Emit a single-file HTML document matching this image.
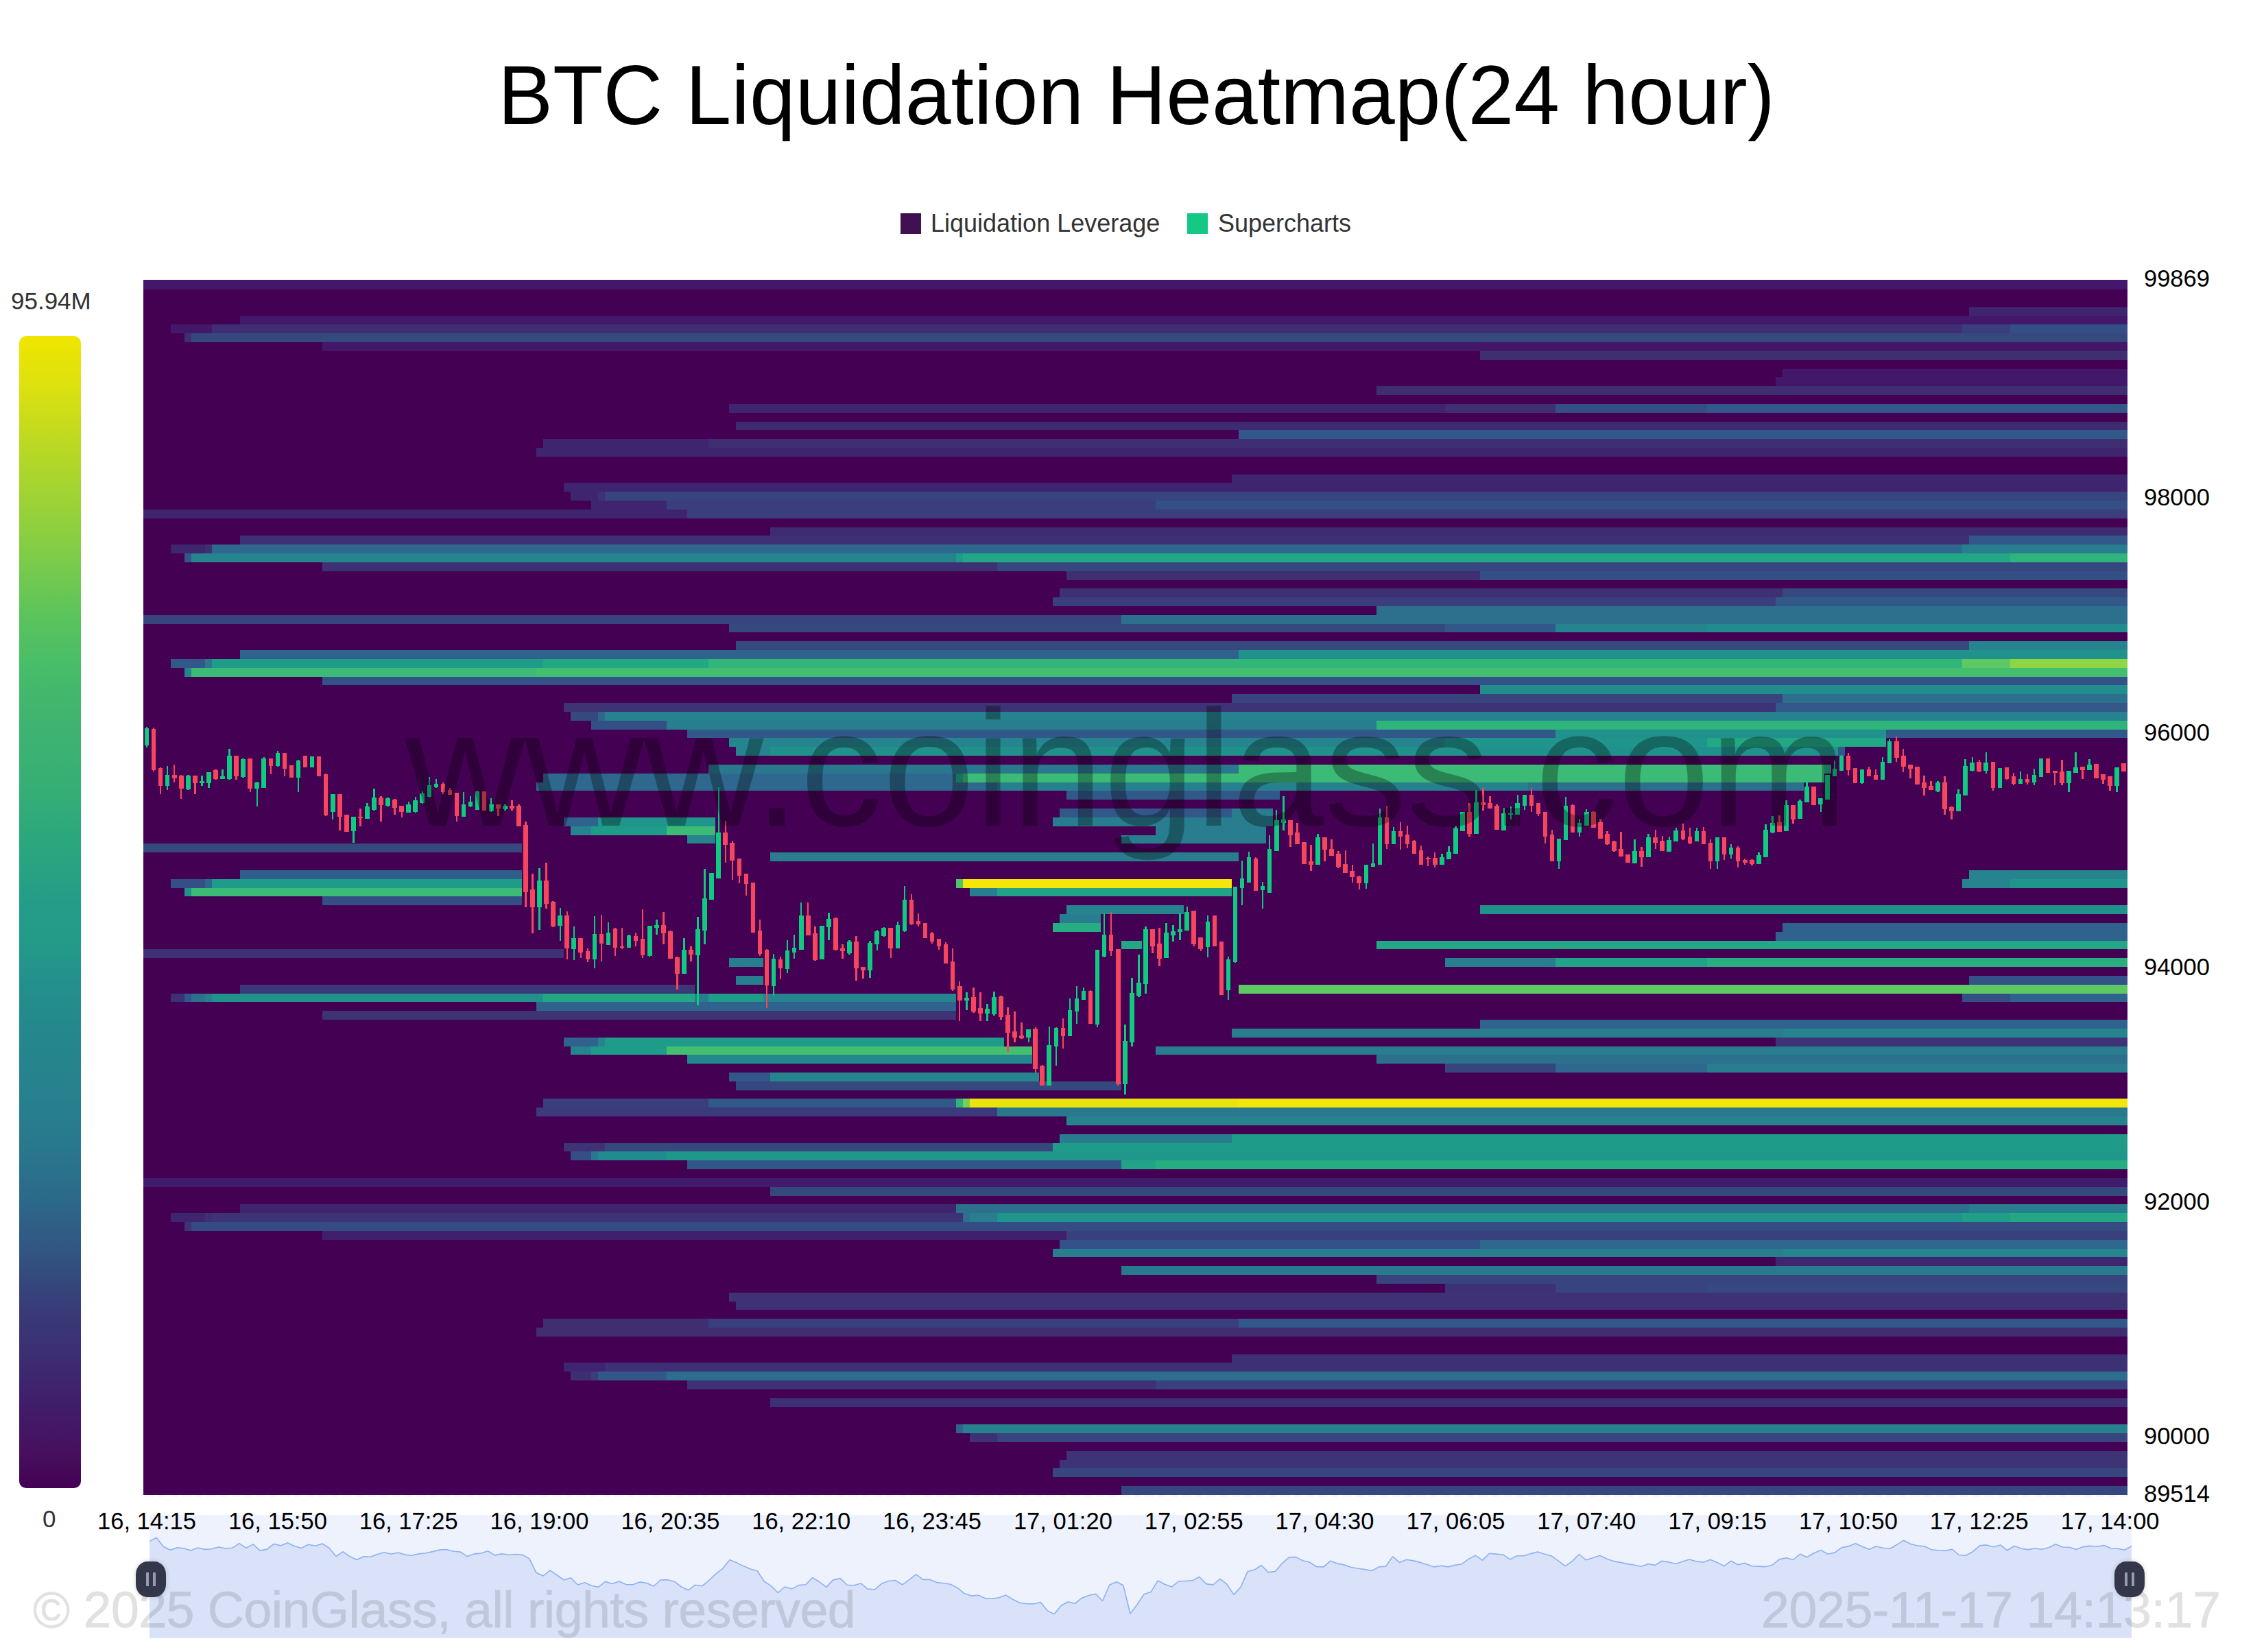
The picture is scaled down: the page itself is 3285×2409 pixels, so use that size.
<!DOCTYPE html>
<html><head><meta charset="utf-8"><title>BTC Liquidation Heatmap</title>
<style>
html,body{margin:0;padding:0;background:#fff;}
body{width:3285px;height:2409px;position:relative;overflow:hidden;font-family:"Liberation Sans",Arial,sans-serif;}
.title{position:absolute;left:726px;top:64px;font-size:123px;color:#000;line-height:150px;white-space:nowrap;transform-origin:0 0;transform:scaleX(0.976);}
.leg{position:absolute;top:296px;height:60px;font-size:36px;color:#333;line-height:60px;white-space:nowrap;}
.sq{position:absolute;width:30px;height:30px;}
.cbar{position:absolute;left:28px;top:490px;width:90px;height:1680px;border-radius:10px;background:linear-gradient(to bottom, #f0e500 0.0%, #dde10f 4.3%, #bcd922 9.2%, #9ed335 14.1%, #7fcc48 19.0%, #5dc45a 23.9%, #47bc69 28.8%, #3fb370 33.7%, #3ab172 37.1%, #31ab78 41.3%, #26a381 46.3%, #229c89 49.6%, #239a89 52.9%, #23908b 56.2%, #24898c 59.5%, #26828e 65.0%, #29798d 70.0%, #2a718c 72.4%, #2c6a8a 74.8%, #2f5e85 77.3%, #325380 80.0%, #35477c 82.2%, #383b78 84.6%, #3b3274 87.1%, #3d2a70 89.5%, #40206b 92.0%, #431866 94.4%, #47105f 96.8%, #440154 100.0%);}
.cl{position:absolute;font-size:35px;color:#333;line-height:40px;white-space:nowrap;}
.xl{position:absolute;top:2196px;width:300px;text-align:center;font-size:34.5px;color:#000;line-height:44px;white-space:nowrap;}
.yl{position:absolute;left:3126px;font-size:34.5px;color:#000;line-height:40px;white-space:nowrap;}
.hm{position:absolute;left:209.0px;top:408.0px;}
.sl{position:absolute;left:218.0px;top:2209.0px;}
.wm{font-family:"Liberation Sans",Arial,sans-serif;}
.copy{position:absolute;top:2302px;font-size:71px;color:rgba(0,0,0,0.11);line-height:90px;white-space:nowrap;}
.handle{position:absolute;width:44px;height:52px;border-radius:17px/19px;background:#343749;box-shadow:0 0 7px rgba(0,0,0,0.18);filter:blur(0.6px);}
.grip{position:absolute;top:16px;width:4.4px;height:19.5px;background:#979bb0;}
</style></head><body>
<div class="title">BTC Liquidation Heatmap(24 hour)</div>
<div class="sq" style="left:1313px;top:311px;background:#3f1052;"></div>
<div class="leg" style="left:1357px;">Liquidation Leverage</div>
<div class="sq" style="left:1731px;top:311px;background:#14c986;"></div>
<div class="leg" style="left:1776px;">Supercharts</div>
<div class="cl" style="left:16px;top:419px;">95.94M</div>
<div class="cbar"></div>
<div class="sl"><svg width="2890.0" height="179.5" viewBox="0 0 2890.0 179.5">
<rect x="0" y="0" width="2890.0" height="179.5" fill="#eef2fd"/>
<path d="M0.0,38.6 L10.1,33.3 L20.1,46.3 L30.2,51.3 L40.3,47.8 L50.3,48.9 L60.4,52.1 L70.5,48.0 L80.6,50.4 L90.6,49.7 L100.7,47.0 L110.8,49.0 L120.8,48.3 L130.9,41.7 L141.0,48.3 L151.0,42.9 L161.1,52.1 L171.2,50.1 L181.3,42.5 L191.3,44.9 L201.4,40.8 L211.5,45.8 L221.5,48.5 L231.6,43.2 L241.7,45.4 L251.7,42.0 L261.8,48.3 L271.9,60.5 L282.0,53.8 L292.0,60.8 L302.1,65.5 L312.2,60.7 L322.2,61.3 L332.3,57.6 L342.4,54.8 L352.4,57.2 L362.5,55.0 L372.6,58.1 L382.6,59.2 L392.7,56.9 L402.8,55.7 L412.9,53.6 L422.9,51.1 L433.0,50.5 L443.1,53.2 L453.1,54.0 L463.2,60.6 L473.3,56.9 L483.3,56.1 L493.4,52.8 L503.5,58.9 L513.6,56.9 L523.6,58.3 L533.7,57.5 L543.8,58.3 L553.8,63.9 L563.9,84.3 L574.0,89.0 L584.0,80.8 L594.1,88.0 L604.2,95.0 L614.3,91.7 L624.3,102.0 L634.4,98.7 L644.5,103.2 L654.5,105.3 L664.6,97.3 L674.7,100.4 L684.7,96.9 L694.8,101.6 L704.9,101.8 L714.9,97.9 L725.0,99.5 L735.1,104.0 L745.2,94.9 L755.2,94.7 L765.3,97.2 L775.4,105.0 L785.4,109.8 L795.5,102.3 L805.6,103.8 L815.6,95.9 L825.7,86.2 L835.8,78.3 L845.9,65.7 L855.9,69.6 L866.0,74.6 L876.1,79.1 L886.1,81.8 L896.2,97.0 L906.3,103.6 L916.3,113.5 L926.4,105.0 L936.5,108.1 L946.6,102.6 L956.6,101.7 L966.7,91.6 L976.8,97.8 L986.8,105.4 L996.9,94.9 L1007.0,92.6 L1017.0,102.3 L1027.1,102.8 L1037.2,99.9 L1047.2,108.1 L1057.3,108.8 L1067.4,100.3 L1077.5,96.5 L1087.5,95.5 L1097.6,101.8 L1107.7,94.6 L1117.7,86.8 L1127.8,94.4 L1137.9,94.4 L1147.9,98.6 L1158.0,99.8 L1168.1,101.3 L1178.2,106.6 L1188.2,114.8 L1198.3,118.1 L1208.4,117.2 L1218.4,121.6 L1228.5,122.3 L1238.6,120.8 L1248.6,117.0 L1258.7,123.3 L1268.8,128.2 L1278.9,129.7 L1288.9,129.9 L1299.0,127.2 L1309.1,139.6 L1319.1,144.8 L1329.2,132.2 L1339.3,126.8 L1349.3,129.3 L1359.4,121.2 L1369.5,117.5 L1379.5,115.2 L1389.6,125.5 L1399.7,102.3 L1409.8,97.7 L1419.8,102.7 L1429.9,144.2 L1440.0,130.7 L1450.0,115.8 L1460.1,112.5 L1470.2,95.9 L1480.2,101.2 L1490.3,105.1 L1500.4,97.0 L1510.5,96.5 L1520.5,95.9 L1530.6,90.5 L1540.7,100.6 L1550.7,102.1 L1560.8,93.5 L1570.9,101.2 L1580.9,116.4 L1591.0,105.4 L1601.1,82.7 L1611.1,80.1 L1621.2,73.5 L1631.3,83.9 L1641.4,82.4 L1651.4,70.8 L1661.5,61.9 L1671.6,61.6 L1681.6,66.7 L1691.7,69.3 L1701.8,75.6 L1711.8,75.9 L1721.9,67.2 L1732.0,71.1 L1742.1,72.9 L1752.1,76.5 L1762.2,78.3 L1772.3,79.6 L1782.3,81.5 L1792.4,75.9 L1802.5,75.3 L1812.5,60.9 L1822.6,69.4 L1832.7,65.2 L1842.8,66.9 L1852.8,69.4 L1862.9,72.4 L1873.0,75.9 L1883.0,74.2 L1893.1,75.9 L1903.2,73.4 L1913.2,71.8 L1923.3,64.4 L1933.4,59.2 L1943.4,66.1 L1953.5,56.3 L1963.6,57.1 L1973.7,58.2 L1983.7,64.9 L1993.8,59.7 L2003.9,59.7 L2013.9,56.6 L2024.0,54.1 L2034.1,57.3 L2044.1,59.9 L2054.2,67.1 L2064.3,74.7 L2074.4,67.6 L2084.4,57.5 L2094.5,65.8 L2104.6,62.8 L2114.6,59.3 L2124.7,64.2 L2134.8,67.6 L2144.8,69.4 L2154.9,71.6 L2165.0,73.3 L2175.1,75.3 L2185.1,71.5 L2195.2,73.4 L2205.3,67.2 L2215.3,68.9 L2225.4,71.5 L2235.5,68.0 L2245.5,65.1 L2255.6,67.9 L2265.7,69.2 L2275.7,65.3 L2285.8,69.4 L2295.9,74.7 L2306.0,67.2 L2316.0,72.7 L2326.1,70.4 L2336.2,74.7 L2346.2,75.1 L2356.3,75.6 L2366.4,72.9 L2376.4,64.9 L2386.5,62.7 L2396.6,65.5 L2406.7,57.2 L2416.7,61.7 L2426.8,55.8 L2436.9,51.4 L2446.9,57.2 L2457.0,55.1 L2467.1,47.8 L2477.1,45.9 L2487.2,41.8 L2497.3,46.2 L2507.4,50.3 L2517.4,46.0 L2527.5,48.3 L2537.6,49.3 L2547.6,43.7 L2557.7,37.2 L2567.8,42.5 L2577.8,45.1 L2587.9,45.8 L2598.0,50.8 L2608.0,51.8 L2618.1,52.4 L2628.2,50.2 L2638.3,58.5 L2648.3,59.2 L2658.4,53.7 L2668.5,44.9 L2678.5,43.9 L2688.6,46.8 L2698.7,43.9 L2708.7,51.8 L2718.8,45.5 L2728.9,49.1 L2739.0,50.6 L2749.0,49.0 L2759.1,50.2 L2769.2,47.8 L2779.2,42.7 L2789.3,47.0 L2799.4,47.2 L2809.4,50.4 L2819.5,46.6 L2829.6,45.4 L2839.7,46.2 L2849.7,44.6 L2859.8,48.8 L2869.9,49.3 L2879.9,51.3 L2890.0,45.5 L2890.0,179.5 L0,179.5 Z" fill="#d9e2f9"/>
<path d="M0.0,38.6 L10.1,33.3 L20.1,46.3 L30.2,51.3 L40.3,47.8 L50.3,48.9 L60.4,52.1 L70.5,48.0 L80.6,50.4 L90.6,49.7 L100.7,47.0 L110.8,49.0 L120.8,48.3 L130.9,41.7 L141.0,48.3 L151.0,42.9 L161.1,52.1 L171.2,50.1 L181.3,42.5 L191.3,44.9 L201.4,40.8 L211.5,45.8 L221.5,48.5 L231.6,43.2 L241.7,45.4 L251.7,42.0 L261.8,48.3 L271.9,60.5 L282.0,53.8 L292.0,60.8 L302.1,65.5 L312.2,60.7 L322.2,61.3 L332.3,57.6 L342.4,54.8 L352.4,57.2 L362.5,55.0 L372.6,58.1 L382.6,59.2 L392.7,56.9 L402.8,55.7 L412.9,53.6 L422.9,51.1 L433.0,50.5 L443.1,53.2 L453.1,54.0 L463.2,60.6 L473.3,56.9 L483.3,56.1 L493.4,52.8 L503.5,58.9 L513.6,56.9 L523.6,58.3 L533.7,57.5 L543.8,58.3 L553.8,63.9 L563.9,84.3 L574.0,89.0 L584.0,80.8 L594.1,88.0 L604.2,95.0 L614.3,91.7 L624.3,102.0 L634.4,98.7 L644.5,103.2 L654.5,105.3 L664.6,97.3 L674.7,100.4 L684.7,96.9 L694.8,101.6 L704.9,101.8 L714.9,97.9 L725.0,99.5 L735.1,104.0 L745.2,94.9 L755.2,94.7 L765.3,97.2 L775.4,105.0 L785.4,109.8 L795.5,102.3 L805.6,103.8 L815.6,95.9 L825.7,86.2 L835.8,78.3 L845.9,65.7 L855.9,69.6 L866.0,74.6 L876.1,79.1 L886.1,81.8 L896.2,97.0 L906.3,103.6 L916.3,113.5 L926.4,105.0 L936.5,108.1 L946.6,102.6 L956.6,101.7 L966.7,91.6 L976.8,97.8 L986.8,105.4 L996.9,94.9 L1007.0,92.6 L1017.0,102.3 L1027.1,102.8 L1037.2,99.9 L1047.2,108.1 L1057.3,108.8 L1067.4,100.3 L1077.5,96.5 L1087.5,95.5 L1097.6,101.8 L1107.7,94.6 L1117.7,86.8 L1127.8,94.4 L1137.9,94.4 L1147.9,98.6 L1158.0,99.8 L1168.1,101.3 L1178.2,106.6 L1188.2,114.8 L1198.3,118.1 L1208.4,117.2 L1218.4,121.6 L1228.5,122.3 L1238.6,120.8 L1248.6,117.0 L1258.7,123.3 L1268.8,128.2 L1278.9,129.7 L1288.9,129.9 L1299.0,127.2 L1309.1,139.6 L1319.1,144.8 L1329.2,132.2 L1339.3,126.8 L1349.3,129.3 L1359.4,121.2 L1369.5,117.5 L1379.5,115.2 L1389.6,125.5 L1399.7,102.3 L1409.8,97.7 L1419.8,102.7 L1429.9,144.2 L1440.0,130.7 L1450.0,115.8 L1460.1,112.5 L1470.2,95.9 L1480.2,101.2 L1490.3,105.1 L1500.4,97.0 L1510.5,96.5 L1520.5,95.9 L1530.6,90.5 L1540.7,100.6 L1550.7,102.1 L1560.8,93.5 L1570.9,101.2 L1580.9,116.4 L1591.0,105.4 L1601.1,82.7 L1611.1,80.1 L1621.2,73.5 L1631.3,83.9 L1641.4,82.4 L1651.4,70.8 L1661.5,61.9 L1671.6,61.6 L1681.6,66.7 L1691.7,69.3 L1701.8,75.6 L1711.8,75.9 L1721.9,67.2 L1732.0,71.1 L1742.1,72.9 L1752.1,76.5 L1762.2,78.3 L1772.3,79.6 L1782.3,81.5 L1792.4,75.9 L1802.5,75.3 L1812.5,60.9 L1822.6,69.4 L1832.7,65.2 L1842.8,66.9 L1852.8,69.4 L1862.9,72.4 L1873.0,75.9 L1883.0,74.2 L1893.1,75.9 L1903.2,73.4 L1913.2,71.8 L1923.3,64.4 L1933.4,59.2 L1943.4,66.1 L1953.5,56.3 L1963.6,57.1 L1973.7,58.2 L1983.7,64.9 L1993.8,59.7 L2003.9,59.7 L2013.9,56.6 L2024.0,54.1 L2034.1,57.3 L2044.1,59.9 L2054.2,67.1 L2064.3,74.7 L2074.4,67.6 L2084.4,57.5 L2094.5,65.8 L2104.6,62.8 L2114.6,59.3 L2124.7,64.2 L2134.8,67.6 L2144.8,69.4 L2154.9,71.6 L2165.0,73.3 L2175.1,75.3 L2185.1,71.5 L2195.2,73.4 L2205.3,67.2 L2215.3,68.9 L2225.4,71.5 L2235.5,68.0 L2245.5,65.1 L2255.6,67.9 L2265.7,69.2 L2275.7,65.3 L2285.8,69.4 L2295.9,74.7 L2306.0,67.2 L2316.0,72.7 L2326.1,70.4 L2336.2,74.7 L2346.2,75.1 L2356.3,75.6 L2366.4,72.9 L2376.4,64.9 L2386.5,62.7 L2396.6,65.5 L2406.7,57.2 L2416.7,61.7 L2426.8,55.8 L2436.9,51.4 L2446.9,57.2 L2457.0,55.1 L2467.1,47.8 L2477.1,45.9 L2487.2,41.8 L2497.3,46.2 L2507.4,50.3 L2517.4,46.0 L2527.5,48.3 L2537.6,49.3 L2547.6,43.7 L2557.7,37.2 L2567.8,42.5 L2577.8,45.1 L2587.9,45.8 L2598.0,50.8 L2608.0,51.8 L2618.1,52.4 L2628.2,50.2 L2638.3,58.5 L2648.3,59.2 L2658.4,53.7 L2668.5,44.9 L2678.5,43.9 L2688.6,46.8 L2698.7,43.9 L2708.7,51.8 L2718.8,45.5 L2728.9,49.1 L2739.0,50.6 L2749.0,49.0 L2759.1,50.2 L2769.2,47.8 L2779.2,42.7 L2789.3,47.0 L2799.4,47.2 L2809.4,50.4 L2819.5,46.6 L2829.6,45.4 L2839.7,46.2 L2849.7,44.6 L2859.8,48.8 L2869.9,49.3 L2879.9,51.3 L2890.0,45.5" fill="none" stroke="#8db1f5" stroke-width="1.6" stroke-linejoin="round"/>
</svg></div>
<svg style="position:absolute;left:209px;top:2180px;" width="2893" height="3"><line x1="3" y1="1.5" x2="2893" y2="1.5" stroke="#e3e3e3" stroke-width="1.2" stroke-dasharray="12 6"/></svg>
<div class="cl" style="left:62px;top:2195px;">0</div>
<div class="xl" style="left:64.0px">16, 14:15</div><div class="xl" style="left:254.9px">16, 15:50</div><div class="xl" style="left:445.7px">16, 17:25</div><div class="xl" style="left:636.5px">16, 19:00</div><div class="xl" style="left:827.4px">16, 20:35</div><div class="xl" style="left:1018.2px">16, 22:10</div><div class="xl" style="left:1209.0px">16, 23:45</div><div class="xl" style="left:1399.9px">17, 01:20</div><div class="xl" style="left:1590.7px">17, 02:55</div><div class="xl" style="left:1781.5px">17, 04:30</div><div class="xl" style="left:1972.4px">17, 06:05</div><div class="xl" style="left:2163.2px">17, 07:40</div><div class="xl" style="left:2354.1px">17, 09:15</div><div class="xl" style="left:2544.9px">17, 10:50</div><div class="xl" style="left:2735.7px">17, 12:25</div><div class="xl" style="left:2926.6px">17, 14:00</div>
<div class="yl" style="top:385.5px">99869</div><div class="yl" style="top:705.3px">98000</div><div class="yl" style="top:1047.6px">96000</div><div class="yl" style="top:1389.8px">94000</div><div class="yl" style="top:1732.1px">92000</div><div class="yl" style="top:2074.3px">90000</div><div class="yl" style="top:2157.5px">89514</div>
<div class="hm"><svg width="2893.0" height="1772.0" viewBox="0 0 2893.0 1772.0" shape-rendering="crispEdges">
<rect x="0" y="0" width="2893.0" height="1772.0" fill="#440154"/><rect x="0" y="0" width="2893" height="14" fill="#43176a"/><rect x="2662" y="40" width="231" height="13" fill="#3f2570"/><rect x="141" y="53" width="2752" height="12" fill="#43176a"/><rect x="40" y="65" width="60" height="13" fill="#43176a"/><rect x="100" y="65" width="2552" height="13" fill="#3f2e72"/><rect x="2652" y="65" width="70" height="13" fill="#3a3e7d"/><rect x="2722" y="65" width="171" height="13" fill="#344f86"/><rect x="60" y="78" width="10" height="13" fill="#3f2e72"/><rect x="70" y="78" width="2823" height="13" fill="#35497f"/><rect x="261" y="91" width="2632" height="13" fill="#43176a"/><rect x="1949" y="104" width="944" height="13" fill="#3f2e72"/><rect x="2390" y="130" width="503" height="12" fill="#43176a"/><rect x="2380" y="142" width="513" height="13" fill="#43176a"/><rect x="1798" y="155" width="1095" height="13" fill="#3f2e72"/><rect x="854" y="181" width="1044" height="13" fill="#3f2570"/><rect x="1898" y="181" width="161" height="13" fill="#3f2e72"/><rect x="2059" y="181" width="221" height="13" fill="#344f86"/><rect x="2280" y="181" width="613" height="13" fill="#32588a"/><rect x="864" y="207" width="2029" height="12" fill="#3f2b71"/><rect x="1597" y="219" width="1296" height="13" fill="#32588a"/><rect x="583" y="232" width="241" height="13" fill="#3f2570"/><rect x="824" y="232" width="2069" height="13" fill="#3f2e72"/><rect x="573" y="245" width="2320" height="13" fill="#3f2570"/><rect x="1587" y="284" width="1306" height="12" fill="#3f2570"/><rect x="613" y="296" width="2280" height="13" fill="#3f2570"/><rect x="623" y="309" width="40" height="13" fill="#3f2570"/><rect x="663" y="309" width="10" height="13" fill="#3e3074"/><rect x="673" y="309" width="2220" height="13" fill="#37447e"/><rect x="653" y="322" width="110" height="13" fill="#3f2570"/><rect x="763" y="322" width="713" height="13" fill="#3a3e7d"/><rect x="1476" y="322" width="1417" height="13" fill="#344f86"/><rect x="0" y="335" width="793" height="13" fill="#3f2570"/><rect x="793" y="335" width="2100" height="13" fill="#3a3e7d"/><rect x="914" y="361" width="1979" height="12" fill="#3f2b71"/><rect x="141" y="373" width="2521" height="13" fill="#3e3074"/><rect x="2662" y="373" width="231" height="13" fill="#32588a"/><rect x="40" y="386" width="50" height="13" fill="#3f2570"/><rect x="90" y="386" width="10" height="13" fill="#3e3074"/><rect x="100" y="386" width="2552" height="13" fill="#2e688e"/><rect x="2652" y="386" width="241" height="13" fill="#287d8e"/><rect x="60" y="399" width="10" height="13" fill="#32588a"/><rect x="70" y="399" width="1115" height="13" fill="#25848e"/><rect x="1185" y="399" width="10" height="13" fill="#1e9c89"/><rect x="1195" y="399" width="1527" height="13" fill="#22a884"/><rect x="2722" y="399" width="171" height="13" fill="#2fb47c"/><rect x="261" y="412" width="984" height="13" fill="#3e3074"/><rect x="1245" y="412" width="1648" height="13" fill="#36467e"/><rect x="1346" y="425" width="603" height="13" fill="#3f2e72"/><rect x="1949" y="425" width="944" height="13" fill="#344f86"/><rect x="1336" y="450" width="1054" height="13" fill="#3e3074"/><rect x="2390" y="450" width="503" height="13" fill="#35497f"/><rect x="1326" y="463" width="1054" height="13" fill="#3a3e7d"/><rect x="2380" y="463" width="513" height="13" fill="#32588a"/><rect x="1798" y="476" width="1095" height="13" fill="#2c708e"/><rect x="0" y="489" width="1426" height="13" fill="#37447e"/><rect x="1426" y="489" width="1467" height="13" fill="#2c708e"/><rect x="854" y="502" width="1044" height="12" fill="#35497f"/><rect x="1898" y="502" width="161" height="12" fill="#32588a"/><rect x="2059" y="502" width="221" height="12" fill="#25848e"/><rect x="2280" y="502" width="613" height="12" fill="#228b8d"/><rect x="864" y="527" width="1798" height="13" fill="#35497f"/><rect x="2662" y="527" width="231" height="13" fill="#25848e"/><rect x="141" y="540" width="1456" height="13" fill="#2f628d"/><rect x="1597" y="540" width="1296" height="13" fill="#21918c"/><rect x="40" y="553" width="50" height="13" fill="#32588a"/><rect x="90" y="553" width="10" height="13" fill="#2a788e"/><rect x="100" y="553" width="483" height="13" fill="#1e9c89"/><rect x="583" y="553" width="241" height="13" fill="#22a884"/><rect x="824" y="553" width="1828" height="13" fill="#32b67a"/><rect x="2652" y="553" width="70" height="13" fill="#5ec962"/><rect x="2722" y="553" width="171" height="13" fill="#8ed645"/><rect x="60" y="566" width="10" height="13" fill="#25848e"/><rect x="70" y="566" width="503" height="13" fill="#3bbb75"/><rect x="573" y="566" width="2320" height="13" fill="#44bf70"/><rect x="261" y="579" width="2632" height="12" fill="#33528a"/><rect x="1949" y="591" width="944" height="13" fill="#218e8d"/><rect x="1587" y="604" width="803" height="13" fill="#37447e"/><rect x="2390" y="604" width="503" height="13" fill="#2c708e"/><rect x="613" y="617" width="1767" height="13" fill="#3d3375"/><rect x="2380" y="617" width="513" height="13" fill="#32588a"/><rect x="623" y="630" width="40" height="13" fill="#35497f"/><rect x="663" y="630" width="10" height="13" fill="#2e688e"/><rect x="673" y="630" width="2220" height="13" fill="#26828e"/><rect x="653" y="643" width="110" height="13" fill="#344f86"/><rect x="763" y="643" width="1035" height="13" fill="#287d8e"/><rect x="1798" y="643" width="1095" height="13" fill="#2fb47c"/><rect x="793" y="656" width="1266" height="12" fill="#32588a"/><rect x="2059" y="656" width="482" height="12" fill="#21918c"/><rect x="2541" y="656" width="352" height="12" fill="#32588a"/><rect x="854" y="668" width="1044" height="13" fill="#25848e"/><rect x="1898" y="668" width="382" height="13" fill="#1f958b"/><rect x="2280" y="668" width="261" height="13" fill="#22a884"/><rect x="864" y="681" width="50" height="13" fill="#25848e"/><rect x="914" y="681" width="1557" height="13" fill="#21918c"/><rect x="2471" y="681" width="10" height="13" fill="#32588a"/><rect x="824" y="707" width="773" height="13" fill="#2a788e"/><rect x="1597" y="707" width="854" height="13" fill="#3bbb75"/><rect x="2451" y="707" width="10" height="13" fill="#22a884"/><rect x="583" y="720" width="602" height="13" fill="#2e688e"/><rect x="1185" y="720" width="10" height="13" fill="#20a386"/><rect x="1195" y="720" width="1256" height="13" fill="#3bbb75"/><rect x="573" y="733" width="672" height="12" fill="#2e688e"/><rect x="1245" y="733" width="774" height="12" fill="#27808e"/><rect x="2019" y="733" width="402" height="12" fill="#2c708e"/><rect x="1346" y="745" width="311" height="13" fill="#32588a"/><rect x="1336" y="771" width="251" height="13" fill="#32588a"/><rect x="1587" y="771" width="60" height="13" fill="#287d8e"/><rect x="613" y="784" width="50" height="13" fill="#2f628d"/><rect x="663" y="784" width="171" height="13" fill="#1f958b"/><rect x="1326" y="784" width="321" height="13" fill="#287d8e"/><rect x="623" y="797" width="30" height="13" fill="#25848e"/><rect x="653" y="797" width="110" height="13" fill="#1e9c89"/><rect x="763" y="797" width="71" height="13" fill="#3bbb75"/><rect x="1476" y="797" width="161" height="13" fill="#287d8e"/><rect x="793" y="810" width="41" height="12" fill="#25848e"/><rect x="1426" y="810" width="211" height="12" fill="#287d8e"/><rect x="0" y="822" width="552" height="13" fill="#35497f"/><rect x="914" y="835" width="683" height="13" fill="#287d8e"/><rect x="141" y="861" width="411" height="13" fill="#305f8c"/><rect x="2662" y="861" width="231" height="13" fill="#25848e"/><rect x="40" y="874" width="50" height="13" fill="#344f86"/><rect x="90" y="874" width="10" height="13" fill="#2e688e"/><rect x="100" y="874" width="452" height="13" fill="#1e9c89"/><rect x="1185" y="874" width="10" height="13" fill="#4ec36b"/><rect x="1195" y="874" width="392" height="13" fill="#f3e608"/><rect x="2652" y="874" width="70" height="13" fill="#25848e"/><rect x="2722" y="874" width="171" height="13" fill="#1f958b"/><rect x="60" y="887" width="10" height="12" fill="#21918c"/><rect x="70" y="887" width="482" height="12" fill="#3bbb75"/><rect x="1205" y="887" width="40" height="12" fill="#287d8e"/><rect x="1245" y="887" width="342" height="12" fill="#20a386"/><rect x="261" y="899" width="291" height="13" fill="#344f86"/><rect x="1346" y="912" width="171" height="13" fill="#25848e"/><rect x="1949" y="912" width="944" height="13" fill="#21918c"/><rect x="1336" y="925" width="60" height="13" fill="#287d8e"/><rect x="1326" y="938" width="70" height="13" fill="#26ad81"/><rect x="2390" y="938" width="503" height="13" fill="#2f628d"/><rect x="2380" y="951" width="513" height="13" fill="#2f628d"/><rect x="1426" y="964" width="30" height="12" fill="#22a884"/><rect x="1798" y="964" width="1095" height="12" fill="#22a884"/><rect x="0" y="976" width="613" height="13" fill="#3e3074"/><rect x="854" y="989" width="50" height="13" fill="#287d8e"/><rect x="1898" y="989" width="161" height="13" fill="#287d8e"/><rect x="2059" y="989" width="221" height="13" fill="#20a386"/><rect x="2280" y="989" width="613" height="13" fill="#29af7f"/><rect x="864" y="1015" width="40" height="13" fill="#287d8e"/><rect x="2662" y="1015" width="231" height="13" fill="#33528a"/><rect x="141" y="1028" width="663" height="13" fill="#3c3778"/><rect x="1597" y="1028" width="1296" height="13" fill="#5ec962"/><rect x="40" y="1041" width="20" height="12" fill="#3e3074"/><rect x="60" y="1041" width="10" height="12" fill="#32588a"/><rect x="70" y="1041" width="20" height="12" fill="#2c708e"/><rect x="90" y="1041" width="10" height="12" fill="#287d8e"/><rect x="100" y="1041" width="483" height="12" fill="#21918c"/><rect x="583" y="1041" width="221" height="12" fill="#22a884"/><rect x="804" y="1041" width="20" height="12" fill="#287d8e"/><rect x="824" y="1041" width="80" height="12" fill="#1e9c89"/><rect x="904" y="1041" width="281" height="12" fill="#25848e"/><rect x="2652" y="1041" width="70" height="12" fill="#344f86"/><rect x="2722" y="1041" width="171" height="12" fill="#2f628d"/><rect x="573" y="1053" width="612" height="13" fill="#2f628d"/><rect x="261" y="1066" width="924" height="13" fill="#3d3375"/><rect x="1949" y="1079" width="944" height="13" fill="#2f628d"/><rect x="1587" y="1092" width="803" height="13" fill="#287d8e"/><rect x="2390" y="1092" width="503" height="13" fill="#25848e"/><rect x="613" y="1105" width="50" height="13" fill="#2f628d"/><rect x="663" y="1105" width="10" height="13" fill="#25848e"/><rect x="673" y="1105" width="582" height="13" fill="#1e9c89"/><rect x="2380" y="1105" width="513" height="13" fill="#3d3375"/><rect x="623" y="1118" width="30" height="12" fill="#25848e"/><rect x="653" y="1118" width="110" height="12" fill="#1e9c89"/><rect x="763" y="1118" width="533" height="12" fill="#44bf70"/><rect x="1476" y="1118" width="1417" height="12" fill="#287d8e"/><rect x="793" y="1130" width="503" height="13" fill="#23898e"/><rect x="1798" y="1130" width="1095" height="13" fill="#2c708e"/><rect x="1898" y="1143" width="161" height="13" fill="#37447e"/><rect x="2059" y="1143" width="221" height="13" fill="#2e688e"/><rect x="2280" y="1143" width="613" height="13" fill="#287d8e"/><rect x="854" y="1156" width="60" height="13" fill="#32588a"/><rect x="914" y="1156" width="392" height="13" fill="#25848e"/><rect x="864" y="1169" width="562" height="13" fill="#35497f"/><rect x="583" y="1194" width="241" height="13" fill="#3a3e7d"/><rect x="824" y="1194" width="361" height="13" fill="#32588a"/><rect x="1185" y="1194" width="10" height="13" fill="#2fb47c"/><rect x="1195" y="1194" width="10" height="13" fill="#7ad151"/><rect x="1205" y="1194" width="392" height="13" fill="#e9e40c"/><rect x="1597" y="1194" width="1296" height="13" fill="#f3e608"/><rect x="573" y="1207" width="672" height="13" fill="#3b3a7a"/><rect x="1245" y="1207" width="1648" height="13" fill="#2a788e"/><rect x="1346" y="1220" width="1547" height="13" fill="#25848e"/><rect x="1336" y="1246" width="251" height="13" fill="#287d8e"/><rect x="1587" y="1246" width="1306" height="13" fill="#1e9c89"/><rect x="613" y="1259" width="60" height="12" fill="#3d3375"/><rect x="673" y="1259" width="653" height="12" fill="#35497f"/><rect x="1326" y="1259" width="1567" height="12" fill="#1e9c89"/><rect x="623" y="1271" width="30" height="13" fill="#344f86"/><rect x="653" y="1271" width="10" height="13" fill="#2a788e"/><rect x="663" y="1271" width="100" height="13" fill="#228b8d"/><rect x="763" y="1271" width="2130" height="13" fill="#1f978b"/><rect x="793" y="1284" width="633" height="13" fill="#32588a"/><rect x="1426" y="1284" width="50" height="13" fill="#20a386"/><rect x="1476" y="1284" width="1417" height="13" fill="#26ad81"/><rect x="0" y="1310" width="2893" height="13" fill="#421c6c"/><rect x="914" y="1323" width="1979" height="13" fill="#35497f"/><rect x="141" y="1348" width="1044" height="13" fill="#3f2570"/><rect x="1185" y="1348" width="1477" height="13" fill="#2c708e"/><rect x="2662" y="1348" width="231" height="13" fill="#287d8e"/><rect x="40" y="1361" width="50" height="13" fill="#3f2570"/><rect x="90" y="1361" width="10" height="13" fill="#3f2e72"/><rect x="100" y="1361" width="1095" height="13" fill="#3d3375"/><rect x="1195" y="1361" width="10" height="13" fill="#2c708e"/><rect x="1205" y="1361" width="40" height="13" fill="#287d8e"/><rect x="1245" y="1361" width="1407" height="13" fill="#1f958b"/><rect x="2652" y="1361" width="70" height="13" fill="#1f9f88"/><rect x="2722" y="1361" width="171" height="13" fill="#22a884"/><rect x="60" y="1374" width="10" height="13" fill="#3d3375"/><rect x="70" y="1374" width="2823" height="13" fill="#344c83"/><rect x="261" y="1387" width="1085" height="13" fill="#40206e"/><rect x="1346" y="1387" width="1547" height="13" fill="#38417e"/><rect x="1336" y="1400" width="613" height="13" fill="#33528a"/><rect x="1949" y="1400" width="944" height="13" fill="#2e688e"/><rect x="1326" y="1413" width="1064" height="12" fill="#287d8e"/><rect x="2390" y="1413" width="503" height="12" fill="#25848e"/><rect x="2380" y="1425" width="513" height="13" fill="#3f2570"/><rect x="1426" y="1438" width="1467" height="13" fill="#297a8e"/><rect x="1798" y="1451" width="1095" height="13" fill="#37447e"/><rect x="1898" y="1464" width="161" height="13" fill="#3e3074"/><rect x="2059" y="1464" width="221" height="13" fill="#37447e"/><rect x="2280" y="1464" width="613" height="13" fill="#35497f"/><rect x="854" y="1477" width="2039" height="13" fill="#3e3274"/><rect x="864" y="1490" width="2029" height="12" fill="#3e3274"/><rect x="583" y="1515" width="241" height="13" fill="#3f2e72"/><rect x="824" y="1515" width="773" height="13" fill="#3a3e7d"/><rect x="1597" y="1515" width="1296" height="13" fill="#32588a"/><rect x="573" y="1528" width="2320" height="13" fill="#3f2e72"/><rect x="1587" y="1567" width="1306" height="12" fill="#3e3074"/><rect x="613" y="1579" width="60" height="13" fill="#3f2570"/><rect x="673" y="1579" width="2220" height="13" fill="#3e3074"/><rect x="623" y="1592" width="30" height="13" fill="#3f2e72"/><rect x="653" y="1592" width="10" height="13" fill="#3a3e7d"/><rect x="663" y="1592" width="100" height="13" fill="#32588a"/><rect x="763" y="1592" width="2130" height="13" fill="#2d6d8e"/><rect x="793" y="1605" width="683" height="13" fill="#3e3274"/><rect x="1476" y="1605" width="1417" height="13" fill="#38417e"/><rect x="914" y="1631" width="1979" height="13" fill="#3e3074"/><rect x="1185" y="1669" width="10" height="13" fill="#2f628d"/><rect x="1195" y="1669" width="1698" height="13" fill="#27808e"/><rect x="1205" y="1682" width="40" height="13" fill="#3e3074"/><rect x="1245" y="1682" width="1648" height="13" fill="#37447e"/><rect x="1346" y="1708" width="1547" height="13" fill="#3d3375"/><rect x="1336" y="1721" width="1557" height="12" fill="#3d3375"/><rect x="1326" y="1733" width="1567" height="13" fill="#36477f"/><rect x="1426" y="1759" width="1467" height="13" fill="#36477f"/>
<rect x="3.8" y="652.0" width="2.4" height="30.0" fill="#0ecb81"/><rect x="1.72" y="654.4" width="6.6" height="24.7" fill="#0ecb81"/><rect x="13.9" y="652.8" width="2.4" height="63.9" fill="#f6465d"/><rect x="11.77" y="655.2" width="6.6" height="59.9" fill="#f6465d"/><rect x="23.9" y="710.8" width="2.4" height="39.1" fill="#f6465d"/><rect x="21.81" y="711.9" width="6.6" height="26.4" fill="#f6465d"/><rect x="34.0" y="708.7" width="2.4" height="35.2" fill="#0ecb81"/><rect x="31.85" y="722.3" width="6.6" height="16.0" fill="#0ecb81"/><rect x="44.0" y="707.1" width="2.4" height="25.6" fill="#f6465d"/><rect x="41.90" y="722.3" width="6.6" height="4.8" fill="#f6465d"/><rect x="54.0" y="722.3" width="2.4" height="35.1" fill="#f6465d"/><rect x="51.94" y="723.0" width="6.6" height="19.3" fill="#f6465d"/><rect x="64.1" y="721.8" width="2.4" height="22.2" fill="#0ecb81"/><rect x="61.99" y="723.0" width="6.6" height="20.0" fill="#0ecb81"/><rect x="74.1" y="723.4" width="2.4" height="26.5" fill="#f6465d"/><rect x="72.03" y="723.4" width="6.6" height="10.9" fill="#f6465d"/><rect x="84.2" y="723.0" width="2.4" height="14.5" fill="#0ecb81"/><rect x="82.07" y="731.0" width="6.6" height="3.3" fill="#0ecb81"/><rect x="94.2" y="717.8" width="2.4" height="23.2" fill="#0ecb81"/><rect x="92.12" y="718.3" width="6.6" height="16.0" fill="#0ecb81"/><rect x="104.3" y="714.3" width="2.4" height="14.4" fill="#f6465d"/><rect x="102.16" y="715.0" width="6.6" height="12.9" fill="#f6465d"/><rect x="114.3" y="713.5" width="2.4" height="14.4" fill="#0ecb81"/><rect x="112.21" y="724.4" width="6.6" height="3.2" fill="#0ecb81"/><rect x="124.4" y="684.4" width="2.4" height="44.3" fill="#0ecb81"/><rect x="122.25" y="693.5" width="6.6" height="34.4" fill="#0ecb81"/><rect x="134.4" y="693.5" width="2.4" height="35.7" fill="#f6465d"/><rect x="132.29" y="693.5" width="6.6" height="30.9" fill="#f6465d"/><rect x="144.4" y="697.8" width="2.4" height="28.2" fill="#0ecb81"/><rect x="142.34" y="699.1" width="6.6" height="25.6" fill="#0ecb81"/><rect x="154.5" y="698.3" width="2.4" height="48.7" fill="#f6465d"/><rect x="152.38" y="698.3" width="6.6" height="44.0" fill="#f6465d"/><rect x="164.5" y="732.3" width="2.4" height="35.5" fill="#0ecb81"/><rect x="162.43" y="732.7" width="6.6" height="8.8" fill="#0ecb81"/><rect x="174.6" y="695.6" width="2.4" height="45.1" fill="#0ecb81"/><rect x="172.47" y="697.5" width="6.6" height="43.2" fill="#0ecb81"/><rect x="184.6" y="697.5" width="2.4" height="23.2" fill="#f6465d"/><rect x="182.51" y="697.5" width="6.6" height="11.2" fill="#f6465d"/><rect x="194.7" y="687.1" width="2.4" height="22.4" fill="#0ecb81"/><rect x="192.56" y="689.5" width="6.6" height="19.2" fill="#0ecb81"/><rect x="204.7" y="689.5" width="2.4" height="34.4" fill="#f6465d"/><rect x="202.60" y="689.5" width="6.6" height="23.2" fill="#f6465d"/><rect x="214.7" y="707.6" width="2.4" height="17.9" fill="#f6465d"/><rect x="212.65" y="708.4" width="6.6" height="17.1" fill="#f6465d"/><rect x="224.8" y="700.4" width="2.4" height="46.3" fill="#0ecb81"/><rect x="222.69" y="700.7" width="6.6" height="24.8" fill="#0ecb81"/><rect x="234.8" y="694.3" width="2.4" height="16.8" fill="#f6465d"/><rect x="232.73" y="694.3" width="6.6" height="16.8" fill="#f6465d"/><rect x="244.9" y="695.1" width="2.4" height="16.0" fill="#0ecb81"/><rect x="242.78" y="695.1" width="6.6" height="16.0" fill="#0ecb81"/><rect x="254.9" y="695.1" width="2.4" height="29.3" fill="#f6465d"/><rect x="252.82" y="695.1" width="6.6" height="29.3" fill="#f6465d"/><rect x="265.0" y="719.9" width="2.4" height="62.3" fill="#f6465d"/><rect x="262.87" y="720.7" width="6.6" height="60.7" fill="#f6465d"/><rect x="275.0" y="750.2" width="2.4" height="36.5" fill="#0ecb81"/><rect x="272.91" y="750.2" width="6.6" height="25.6" fill="#0ecb81"/><rect x="285.1" y="750.2" width="2.4" height="52.5" fill="#f6465d"/><rect x="282.95" y="750.2" width="6.6" height="32.8" fill="#f6465d"/><rect x="295.1" y="780.3" width="2.4" height="24.3" fill="#f6465d"/><rect x="293.00" y="780.3" width="6.6" height="24.3" fill="#f6465d"/><rect x="305.1" y="782.5" width="2.4" height="38.1" fill="#0ecb81"/><rect x="303.04" y="782.5" width="6.6" height="21.3" fill="#0ecb81"/><rect x="315.2" y="771.0" width="2.4" height="25.6" fill="#f6465d"/><rect x="313.09" y="783.0" width="6.6" height="2.4" fill="#f6465d"/><rect x="325.2" y="763.0" width="2.4" height="23.2" fill="#0ecb81"/><rect x="323.13" y="767.8" width="6.6" height="18.4" fill="#0ecb81"/><rect x="335.3" y="742.3" width="2.4" height="31.9" fill="#0ecb81"/><rect x="333.17" y="755.0" width="6.6" height="18.4" fill="#0ecb81"/><rect x="345.3" y="753.1" width="2.4" height="36.8" fill="#f6465d"/><rect x="343.22" y="755.0" width="6.6" height="11.2" fill="#f6465d"/><rect x="355.4" y="754.7" width="2.4" height="13.2" fill="#0ecb81"/><rect x="353.26" y="755.6" width="6.6" height="10.9" fill="#0ecb81"/><rect x="365.4" y="757.0" width="2.4" height="23.1" fill="#f6465d"/><rect x="363.31" y="758.3" width="6.6" height="11.8" fill="#f6465d"/><rect x="375.5" y="767.4" width="2.4" height="16.3" fill="#f6465d"/><rect x="373.35" y="767.4" width="6.6" height="8.2" fill="#f6465d"/><rect x="385.5" y="761.4" width="2.4" height="16.0" fill="#0ecb81"/><rect x="383.39" y="764.7" width="6.6" height="11.8" fill="#0ecb81"/><rect x="395.5" y="754.1" width="2.4" height="22.4" fill="#0ecb81"/><rect x="393.44" y="759.2" width="6.6" height="16.4" fill="#0ecb81"/><rect x="405.6" y="745.6" width="2.4" height="18.2" fill="#0ecb81"/><rect x="403.48" y="749.2" width="6.6" height="13.7" fill="#0ecb81"/><rect x="415.6" y="724.7" width="2.4" height="30.0" fill="#0ecb81"/><rect x="413.53" y="737.4" width="6.6" height="16.4" fill="#0ecb81"/><rect x="425.7" y="728.3" width="2.4" height="12.8" fill="#0ecb81"/><rect x="423.57" y="734.7" width="6.6" height="5.5" fill="#0ecb81"/><rect x="435.7" y="732.9" width="2.4" height="17.2" fill="#f6465d"/><rect x="433.61" y="734.7" width="6.6" height="12.7" fill="#f6465d"/><rect x="445.8" y="741.1" width="2.4" height="9.9" fill="#f6465d"/><rect x="443.66" y="743.8" width="6.6" height="7.2" fill="#f6465d"/><rect x="455.8" y="748.3" width="2.4" height="41.4" fill="#f6465d"/><rect x="453.70" y="748.3" width="6.6" height="33.6" fill="#f6465d"/><rect x="465.8" y="747.4" width="2.4" height="35.8" fill="#0ecb81"/><rect x="463.75" y="764.7" width="6.6" height="18.1" fill="#0ecb81"/><rect x="475.9" y="753.4" width="2.4" height="15.8" fill="#0ecb81"/><rect x="473.79" y="761.0" width="6.6" height="7.3" fill="#0ecb81"/><rect x="485.9" y="745.1" width="2.4" height="27.7" fill="#0ecb81"/><rect x="483.83" y="745.6" width="6.6" height="27.2" fill="#0ecb81"/><rect x="496.0" y="746.1" width="2.4" height="28.0" fill="#f6465d"/><rect x="493.88" y="746.1" width="6.6" height="28.0" fill="#f6465d"/><rect x="506.0" y="756.0" width="2.4" height="19.9" fill="#0ecb81"/><rect x="503.92" y="764.7" width="6.6" height="10.0" fill="#0ecb81"/><rect x="516.1" y="764.7" width="2.4" height="17.2" fill="#f6465d"/><rect x="513.97" y="764.7" width="6.6" height="6.3" fill="#f6465d"/><rect x="526.1" y="764.7" width="2.4" height="9.4" fill="#0ecb81"/><rect x="524.01" y="767.4" width="6.6" height="4.5" fill="#0ecb81"/><rect x="536.2" y="759.2" width="2.4" height="14.6" fill="#f6465d"/><rect x="534.05" y="766.5" width="6.6" height="4.5" fill="#f6465d"/><rect x="546.2" y="765.0" width="2.4" height="32.4" fill="#f6465d"/><rect x="544.10" y="766.5" width="6.6" height="30.9" fill="#f6465d"/><rect x="556.2" y="790.1" width="2.4" height="125.3" fill="#f6465d"/><rect x="554.14" y="794.6" width="6.6" height="98.1" fill="#f6465d"/><rect x="566.3" y="865.5" width="2.4" height="87.1" fill="#f6465d"/><rect x="564.19" y="889.1" width="6.6" height="25.4" fill="#f6465d"/><rect x="576.3" y="858.2" width="2.4" height="89.9" fill="#0ecb81"/><rect x="574.23" y="876.4" width="6.6" height="38.1" fill="#0ecb81"/><rect x="586.4" y="850.0" width="2.4" height="67.2" fill="#f6465d"/><rect x="584.27" y="876.4" width="6.6" height="33.6" fill="#f6465d"/><rect x="596.4" y="906.3" width="2.4" height="37.3" fill="#f6465d"/><rect x="594.32" y="907.2" width="6.6" height="35.5" fill="#f6465d"/><rect x="606.5" y="916.3" width="2.4" height="48.1" fill="#0ecb81"/><rect x="604.36" y="927.2" width="6.6" height="14.5" fill="#0ecb81"/><rect x="616.5" y="920.9" width="2.4" height="69.9" fill="#f6465d"/><rect x="614.41" y="927.2" width="6.6" height="48.1" fill="#f6465d"/><rect x="626.6" y="942.7" width="2.4" height="49.0" fill="#0ecb81"/><rect x="624.45" y="959.9" width="6.6" height="16.4" fill="#0ecb81"/><rect x="636.6" y="959.9" width="2.4" height="29.1" fill="#f6465d"/><rect x="634.49" y="959.9" width="6.6" height="20.9" fill="#f6465d"/><rect x="646.6" y="975.0" width="2.4" height="20.3" fill="#f6465d"/><rect x="644.54" y="979.0" width="6.6" height="11.8" fill="#f6465d"/><rect x="656.7" y="928.1" width="2.4" height="76.3" fill="#0ecb81"/><rect x="654.58" y="953.6" width="6.6" height="37.2" fill="#0ecb81"/><rect x="666.7" y="926.3" width="2.4" height="67.2" fill="#f6465d"/><rect x="664.63" y="953.6" width="6.6" height="14.5" fill="#f6465d"/><rect x="676.8" y="937.2" width="2.4" height="32.7" fill="#0ecb81"/><rect x="674.67" y="951.7" width="6.6" height="18.2" fill="#0ecb81"/><rect x="686.8" y="944.5" width="2.4" height="41.4" fill="#f6465d"/><rect x="684.71" y="946.3" width="6.6" height="27.2" fill="#f6465d"/><rect x="696.9" y="944.5" width="2.4" height="31.8" fill="#f6465d"/><rect x="694.76" y="971.7" width="6.6" height="2.7" fill="#f6465d"/><rect x="706.9" y="955.4" width="2.4" height="18.1" fill="#0ecb81"/><rect x="704.80" y="956.3" width="6.6" height="17.2" fill="#0ecb81"/><rect x="716.9" y="951.8" width="2.4" height="20.4" fill="#f6465d"/><rect x="714.85" y="956.7" width="6.6" height="6.8" fill="#f6465d"/><rect x="727.0" y="917.5" width="2.4" height="71.1" fill="#f6465d"/><rect x="724.89" y="960.5" width="6.6" height="24.3" fill="#f6465d"/><rect x="737.0" y="942.1" width="2.4" height="44.6" fill="#0ecb81"/><rect x="734.93" y="942.1" width="6.6" height="43.6" fill="#0ecb81"/><rect x="747.1" y="933.4" width="2.4" height="21.3" fill="#0ecb81"/><rect x="744.98" y="941.2" width="6.6" height="3.8" fill="#0ecb81"/><rect x="757.1" y="921.8" width="2.4" height="47.5" fill="#f6465d"/><rect x="755.02" y="941.2" width="6.6" height="11.6" fill="#f6465d"/><rect x="767.2" y="948.9" width="2.4" height="40.7" fill="#f6465d"/><rect x="765.07" y="949.9" width="6.6" height="39.7" fill="#f6465d"/><rect x="777.2" y="986.7" width="2.4" height="48.4" fill="#f6465d"/><rect x="775.11" y="987.7" width="6.6" height="24.2" fill="#f6465d"/><rect x="787.3" y="959.6" width="2.4" height="52.3" fill="#0ecb81"/><rect x="785.15" y="977.0" width="6.6" height="34.9" fill="#0ecb81"/><rect x="797.3" y="972.2" width="2.4" height="22.2" fill="#f6465d"/><rect x="795.20" y="977.0" width="6.6" height="6.8" fill="#f6465d"/><rect x="807.3" y="928.6" width="2.4" height="129.4" fill="#0ecb81"/><rect x="805.24" y="947.0" width="6.6" height="37.8" fill="#0ecb81"/><rect x="817.4" y="858.9" width="2.4" height="110.4" fill="#0ecb81"/><rect x="815.29" y="901.5" width="6.6" height="47.4" fill="#0ecb81"/><rect x="827.4" y="864.7" width="2.4" height="39.7" fill="#0ecb81"/><rect x="825.33" y="864.7" width="6.6" height="39.7" fill="#0ecb81"/><rect x="837.5" y="739.7" width="2.4" height="133.7" fill="#0ecb81"/><rect x="835.37" y="805.6" width="6.6" height="67.8" fill="#0ecb81"/><rect x="847.5" y="789.1" width="2.4" height="61.0" fill="#f6465d"/><rect x="845.42" y="805.6" width="6.6" height="18.4" fill="#f6465d"/><rect x="857.6" y="818.2" width="2.4" height="57.1" fill="#f6465d"/><rect x="855.46" y="821.1" width="6.6" height="26.1" fill="#f6465d"/><rect x="867.6" y="844.3" width="2.4" height="35.9" fill="#f6465d"/><rect x="865.51" y="844.3" width="6.6" height="24.2" fill="#f6465d"/><rect x="877.6" y="865.6" width="2.4" height="32.0" fill="#f6465d"/><rect x="875.55" y="865.6" width="6.6" height="15.5" fill="#f6465d"/><rect x="887.7" y="879.2" width="2.4" height="72.6" fill="#f6465d"/><rect x="885.59" y="879.2" width="6.6" height="72.6" fill="#f6465d"/><rect x="897.7" y="932.5" width="2.4" height="53.2" fill="#f6465d"/><rect x="895.64" y="948.9" width="6.6" height="33.9" fill="#f6465d"/><rect x="907.8" y="976.0" width="2.4" height="86.0" fill="#f6465d"/><rect x="905.68" y="977.0" width="6.6" height="52.3" fill="#f6465d"/><rect x="917.8" y="982.8" width="2.4" height="61.0" fill="#0ecb81"/><rect x="915.73" y="989.6" width="6.6" height="40.7" fill="#0ecb81"/><rect x="927.9" y="986.7" width="2.4" height="32.9" fill="#f6465d"/><rect x="925.77" y="990.6" width="6.6" height="13.5" fill="#f6465d"/><rect x="937.9" y="962.5" width="2.4" height="48.4" fill="#0ecb81"/><rect x="935.81" y="978.0" width="6.6" height="27.1" fill="#0ecb81"/><rect x="948.0" y="954.7" width="2.4" height="34.9" fill="#0ecb81"/><rect x="945.86" y="974.1" width="6.6" height="6.8" fill="#0ecb81"/><rect x="958.0" y="908.3" width="2.4" height="68.7" fill="#0ecb81"/><rect x="955.90" y="926.7" width="6.6" height="50.3" fill="#0ecb81"/><rect x="968.0" y="908.3" width="2.4" height="47.4" fill="#f6465d"/><rect x="965.95" y="926.7" width="6.6" height="29.0" fill="#f6465d"/><rect x="978.1" y="943.1" width="2.4" height="49.4" fill="#f6465d"/><rect x="975.99" y="952.8" width="6.6" height="38.7" fill="#f6465d"/><rect x="988.1" y="942.1" width="2.4" height="48.5" fill="#0ecb81"/><rect x="986.03" y="942.1" width="6.6" height="48.5" fill="#0ecb81"/><rect x="998.2" y="922.8" width="2.4" height="39.7" fill="#0ecb81"/><rect x="996.08" y="931.5" width="6.6" height="12.6" fill="#0ecb81"/><rect x="1008.2" y="930.0" width="2.4" height="47.9" fill="#f6465d"/><rect x="1006.12" y="930.5" width="6.6" height="46.5" fill="#f6465d"/><rect x="1018.3" y="969.3" width="2.4" height="20.3" fill="#f6465d"/><rect x="1016.17" y="975.1" width="6.6" height="3.9" fill="#f6465d"/><rect x="1028.3" y="962.5" width="2.4" height="21.3" fill="#0ecb81"/><rect x="1026.21" y="965.4" width="6.6" height="16.5" fill="#0ecb81"/><rect x="1038.4" y="956.7" width="2.4" height="64.9" fill="#f6465d"/><rect x="1036.25" y="965.4" width="6.6" height="38.7" fill="#f6465d"/><rect x="1048.4" y="1002.2" width="2.4" height="16.5" fill="#f6465d"/><rect x="1046.30" y="1002.2" width="6.6" height="4.8" fill="#f6465d"/><rect x="1058.4" y="963.5" width="2.4" height="54.2" fill="#0ecb81"/><rect x="1056.34" y="967.3" width="6.6" height="39.7" fill="#0ecb81"/><rect x="1068.5" y="948.0" width="2.4" height="30.0" fill="#0ecb81"/><rect x="1066.39" y="949.9" width="6.6" height="19.4" fill="#0ecb81"/><rect x="1078.5" y="944.0" width="2.4" height="13.5" fill="#0ecb81"/><rect x="1076.43" y="945.0" width="6.6" height="11.6" fill="#0ecb81"/><rect x="1088.6" y="945.0" width="2.4" height="43.5" fill="#f6465d"/><rect x="1086.47" y="945.0" width="6.6" height="29.6" fill="#f6465d"/><rect x="1098.6" y="936.2" width="2.4" height="38.4" fill="#0ecb81"/><rect x="1096.52" y="941.0" width="6.6" height="33.6" fill="#0ecb81"/><rect x="1108.7" y="884.3" width="2.4" height="66.5" fill="#0ecb81"/><rect x="1106.56" y="904.3" width="6.6" height="45.5" fill="#0ecb81"/><rect x="1118.7" y="896.0" width="2.4" height="45.0" fill="#f6465d"/><rect x="1116.61" y="904.3" width="6.6" height="35.8" fill="#f6465d"/><rect x="1128.8" y="923.6" width="2.4" height="19.4" fill="#f6465d"/><rect x="1126.65" y="935.3" width="6.6" height="4.8" fill="#f6465d"/><rect x="1138.8" y="937.8" width="2.4" height="21.7" fill="#f6465d"/><rect x="1136.69" y="938.2" width="6.6" height="21.3" fill="#f6465d"/><rect x="1148.8" y="950.8" width="2.4" height="17.4" fill="#f6465d"/><rect x="1146.74" y="952.7" width="6.6" height="12.6" fill="#f6465d"/><rect x="1158.9" y="961.4" width="2.4" height="15.9" fill="#f6465d"/><rect x="1156.78" y="961.4" width="6.6" height="10.7" fill="#f6465d"/><rect x="1168.9" y="965.7" width="2.4" height="31.0" fill="#f6465d"/><rect x="1166.83" y="969.2" width="6.6" height="27.5" fill="#f6465d"/><rect x="1179.0" y="975.0" width="2.4" height="62.0" fill="#f6465d"/><rect x="1176.87" y="994.3" width="6.6" height="40.7" fill="#f6465d"/><rect x="1189.0" y="1023.4" width="2.4" height="57.1" fill="#f6465d"/><rect x="1186.91" y="1030.2" width="6.6" height="20.3" fill="#f6465d"/><rect x="1199.1" y="1038.9" width="2.4" height="26.1" fill="#0ecb81"/><rect x="1196.96" y="1046.6" width="6.6" height="3.9" fill="#0ecb81"/><rect x="1209.1" y="1032.1" width="2.4" height="36.8" fill="#f6465d"/><rect x="1207.00" y="1046.2" width="6.6" height="20.8" fill="#f6465d"/><rect x="1219.1" y="1038.5" width="2.4" height="42.0" fill="#f6465d"/><rect x="1217.05" y="1061.7" width="6.6" height="8.6" fill="#f6465d"/><rect x="1229.2" y="1055.9" width="2.4" height="24.6" fill="#0ecb81"/><rect x="1227.09" y="1063.1" width="6.6" height="6.8" fill="#0ecb81"/><rect x="1239.2" y="1037.9" width="2.4" height="34.9" fill="#0ecb81"/><rect x="1237.13" y="1045.7" width="6.6" height="25.1" fill="#0ecb81"/><rect x="1249.3" y="1043.7" width="2.4" height="34.9" fill="#f6465d"/><rect x="1247.18" y="1044.7" width="6.6" height="30.0" fill="#f6465d"/><rect x="1259.3" y="1061.2" width="2.4" height="65.2" fill="#f6465d"/><rect x="1257.22" y="1071.8" width="6.6" height="26.2" fill="#f6465d"/><rect x="1269.4" y="1067.0" width="2.4" height="44.5" fill="#f6465d"/><rect x="1267.27" y="1096.0" width="6.6" height="8.7" fill="#f6465d"/><rect x="1279.4" y="1082.5" width="2.4" height="24.2" fill="#f6465d"/><rect x="1277.31" y="1101.8" width="6.6" height="3.9" fill="#f6465d"/><rect x="1289.5" y="1092.7" width="2.4" height="18.8" fill="#0ecb81"/><rect x="1287.35" y="1093.1" width="6.6" height="11.6" fill="#0ecb81"/><rect x="1299.5" y="1090.2" width="2.4" height="65.9" fill="#f6465d"/><rect x="1297.40" y="1092.1" width="6.6" height="59.1" fill="#f6465d"/><rect x="1309.5" y="1144.5" width="2.4" height="30.9" fill="#f6465d"/><rect x="1307.44" y="1146.4" width="6.6" height="29.0" fill="#f6465d"/><rect x="1319.6" y="1088.9" width="2.4" height="86.5" fill="#0ecb81"/><rect x="1317.49" y="1116.4" width="6.6" height="59.0" fill="#0ecb81"/><rect x="1329.6" y="1090.2" width="2.4" height="56.2" fill="#0ecb81"/><rect x="1327.53" y="1091.2" width="6.6" height="27.1" fill="#0ecb81"/><rect x="1339.7" y="1076.7" width="2.4" height="44.5" fill="#f6465d"/><rect x="1337.57" y="1091.2" width="6.6" height="11.6" fill="#f6465d"/><rect x="1349.7" y="1047.6" width="2.4" height="55.2" fill="#0ecb81"/><rect x="1347.62" y="1065.0" width="6.6" height="37.8" fill="#0ecb81"/><rect x="1359.8" y="1030.2" width="2.4" height="54.8" fill="#0ecb81"/><rect x="1357.66" y="1047.6" width="6.6" height="19.4" fill="#0ecb81"/><rect x="1369.8" y="1031.5" width="2.4" height="18.6" fill="#0ecb81"/><rect x="1367.71" y="1037.0" width="6.6" height="13.1" fill="#0ecb81"/><rect x="1379.8" y="1036.0" width="2.4" height="49.4" fill="#f6465d"/><rect x="1377.75" y="1037.0" width="6.6" height="48.4" fill="#f6465d"/><rect x="1389.9" y="976.9" width="2.4" height="112.7" fill="#0ecb81"/><rect x="1387.79" y="976.9" width="6.6" height="109.4" fill="#0ecb81"/><rect x="1399.9" y="923.6" width="2.4" height="64.0" fill="#0ecb81"/><rect x="1397.84" y="955.2" width="6.6" height="31.4" fill="#0ecb81"/><rect x="1410.0" y="921.7" width="2.4" height="64.5" fill="#f6465d"/><rect x="1407.88" y="955.2" width="6.6" height="23.6" fill="#f6465d"/><rect x="1420.0" y="976.0" width="2.4" height="199.4" fill="#f6465d"/><rect x="1417.93" y="976.0" width="6.6" height="196.5" fill="#f6465d"/><rect x="1430.1" y="1086.3" width="2.4" height="101.7" fill="#0ecb81"/><rect x="1427.97" y="1109.6" width="6.6" height="62.9" fill="#0ecb81"/><rect x="1440.1" y="1017.7" width="2.4" height="100.3" fill="#0ecb81"/><rect x="1438.01" y="1040.0" width="6.6" height="72.4" fill="#0ecb81"/><rect x="1450.2" y="983.7" width="2.4" height="61.8" fill="#0ecb81"/><rect x="1448.06" y="1024.6" width="6.6" height="19.5" fill="#0ecb81"/><rect x="1460.2" y="942.5" width="2.4" height="98.9" fill="#0ecb81"/><rect x="1458.10" y="946.7" width="6.6" height="80.7" fill="#0ecb81"/><rect x="1470.2" y="946.7" width="2.4" height="34.8" fill="#f6465d"/><rect x="1468.15" y="946.7" width="6.6" height="25.0" fill="#f6465d"/><rect x="1480.3" y="944.7" width="2.4" height="56.3" fill="#f6465d"/><rect x="1478.19" y="968.1" width="6.6" height="21.7" fill="#f6465d"/><rect x="1490.3" y="938.3" width="2.4" height="51.0" fill="#0ecb81"/><rect x="1488.23" y="952.2" width="6.6" height="37.1" fill="#0ecb81"/><rect x="1500.4" y="941.1" width="2.4" height="23.7" fill="#0ecb81"/><rect x="1498.28" y="949.5" width="6.6" height="6.9" fill="#0ecb81"/><rect x="1510.4" y="924.4" width="2.4" height="38.2" fill="#0ecb81"/><rect x="1508.32" y="946.7" width="6.6" height="4.2" fill="#0ecb81"/><rect x="1520.5" y="914.1" width="2.4" height="34.5" fill="#0ecb81"/><rect x="1518.37" y="921.6" width="6.6" height="27.0" fill="#0ecb81"/><rect x="1530.5" y="920.2" width="2.4" height="51.5" fill="#f6465d"/><rect x="1528.41" y="920.2" width="6.6" height="48.8" fill="#f6465d"/><rect x="1540.6" y="959.2" width="2.4" height="19.5" fill="#f6465d"/><rect x="1538.45" y="959.2" width="6.6" height="16.7" fill="#f6465d"/><rect x="1550.6" y="927.2" width="2.4" height="61.2" fill="#0ecb81"/><rect x="1548.50" y="935.5" width="6.6" height="37.6" fill="#0ecb81"/><rect x="1560.6" y="927.2" width="2.4" height="44.5" fill="#f6465d"/><rect x="1558.54" y="927.2" width="6.6" height="44.5" fill="#f6465d"/><rect x="1570.7" y="964.8" width="2.4" height="78.0" fill="#f6465d"/><rect x="1568.59" y="964.8" width="6.6" height="78.0" fill="#f6465d"/><rect x="1580.7" y="987.1" width="2.4" height="62.6" fill="#0ecb81"/><rect x="1578.63" y="991.2" width="6.6" height="44.6" fill="#0ecb81"/><rect x="1590.8" y="885.4" width="2.4" height="110.6" fill="#0ecb81"/><rect x="1588.67" y="885.4" width="6.6" height="110.0" fill="#0ecb81"/><rect x="1600.8" y="847.3" width="2.4" height="65.1" fill="#0ecb81"/><rect x="1598.72" y="872.9" width="6.6" height="13.9" fill="#0ecb81"/><rect x="1610.9" y="833.9" width="2.4" height="45.1" fill="#0ecb81"/><rect x="1608.76" y="842.3" width="6.6" height="36.2" fill="#0ecb81"/><rect x="1620.9" y="842.3" width="2.4" height="48.7" fill="#f6465d"/><rect x="1618.81" y="843.6" width="6.6" height="47.4" fill="#f6465d"/><rect x="1631.0" y="877.9" width="2.4" height="39.0" fill="#0ecb81"/><rect x="1628.85" y="884.0" width="6.6" height="5.6" fill="#0ecb81"/><rect x="1641.0" y="810.2" width="2.4" height="83.6" fill="#0ecb81"/><rect x="1638.89" y="829.7" width="6.6" height="64.1" fill="#0ecb81"/><rect x="1651.0" y="772.6" width="2.4" height="59.9" fill="#0ecb81"/><rect x="1648.94" y="788.0" width="6.6" height="44.5" fill="#0ecb81"/><rect x="1661.1" y="753.1" width="2.4" height="50.2" fill="#0ecb81"/><rect x="1658.98" y="786.6" width="6.6" height="5.5" fill="#0ecb81"/><rect x="1671.1" y="788.0" width="2.4" height="39.0" fill="#f6465d"/><rect x="1669.03" y="788.0" width="6.6" height="22.2" fill="#f6465d"/><rect x="1681.2" y="792.1" width="2.4" height="30.7" fill="#f6465d"/><rect x="1679.07" y="806.0" width="6.6" height="16.8" fill="#f6465d"/><rect x="1691.2" y="820.0" width="2.4" height="32.0" fill="#f6465d"/><rect x="1689.11" y="820.0" width="6.6" height="32.0" fill="#f6465d"/><rect x="1701.3" y="824.2" width="2.4" height="37.5" fill="#f6465d"/><rect x="1699.16" y="847.8" width="6.6" height="5.6" fill="#f6465d"/><rect x="1711.3" y="808.3" width="2.4" height="45.1" fill="#0ecb81"/><rect x="1709.20" y="813.0" width="6.6" height="40.4" fill="#0ecb81"/><rect x="1721.3" y="813.0" width="2.4" height="34.8" fill="#f6465d"/><rect x="1719.25" y="813.0" width="6.6" height="18.1" fill="#f6465d"/><rect x="1731.4" y="815.8" width="2.4" height="23.7" fill="#f6465d"/><rect x="1729.29" y="829.7" width="6.6" height="9.8" fill="#f6465d"/><rect x="1741.4" y="832.5" width="2.4" height="25.1" fill="#f6465d"/><rect x="1739.33" y="836.7" width="6.6" height="19.5" fill="#f6465d"/><rect x="1751.5" y="831.7" width="2.4" height="32.8" fill="#f6465d"/><rect x="1749.38" y="852.0" width="6.6" height="12.5" fill="#f6465d"/><rect x="1761.5" y="852.8" width="2.4" height="25.7" fill="#f6465d"/><rect x="1759.42" y="862.3" width="6.6" height="8.4" fill="#f6465d"/><rect x="1771.6" y="868.7" width="2.4" height="20.3" fill="#f6465d"/><rect x="1769.47" y="869.5" width="6.6" height="10.3" fill="#f6465d"/><rect x="1781.6" y="853.4" width="2.4" height="34.8" fill="#0ecb81"/><rect x="1779.51" y="853.4" width="6.6" height="26.4" fill="#0ecb81"/><rect x="1791.7" y="822.2" width="2.4" height="34.0" fill="#0ecb81"/><rect x="1789.55" y="850.6" width="6.6" height="5.6" fill="#0ecb81"/><rect x="1801.7" y="771.4" width="2.4" height="82.0" fill="#0ecb81"/><rect x="1799.60" y="783.5" width="6.6" height="69.9" fill="#0ecb81"/><rect x="1811.7" y="767.4" width="2.4" height="62.7" fill="#f6465d"/><rect x="1809.64" y="783.5" width="6.6" height="39.4" fill="#f6465d"/><rect x="1821.8" y="798.4" width="2.4" height="24.5" fill="#0ecb81"/><rect x="1819.69" y="803.6" width="6.6" height="19.3" fill="#0ecb81"/><rect x="1831.8" y="790.7" width="2.4" height="40.2" fill="#f6465d"/><rect x="1829.73" y="803.6" width="6.6" height="8.0" fill="#f6465d"/><rect x="1841.9" y="796.4" width="2.4" height="32.1" fill="#f6465d"/><rect x="1839.77" y="809.2" width="6.6" height="13.7" fill="#f6465d"/><rect x="1851.9" y="817.2" width="2.4" height="20.1" fill="#f6465d"/><rect x="1849.82" y="818.0" width="6.6" height="19.3" fill="#f6465d"/><rect x="1862.0" y="825.3" width="2.4" height="28.1" fill="#f6465d"/><rect x="1859.86" y="832.2" width="6.6" height="21.2" fill="#f6465d"/><rect x="1872.0" y="840.5" width="2.4" height="14.5" fill="#f6465d"/><rect x="1869.91" y="842.9" width="6.6" height="2.5" fill="#f6465d"/><rect x="1882.0" y="835.4" width="2.4" height="22.0" fill="#f6465d"/><rect x="1879.95" y="843.4" width="6.6" height="10.0" fill="#f6465d"/><rect x="1892.1" y="837.3" width="2.4" height="15.3" fill="#0ecb81"/><rect x="1889.99" y="841.8" width="6.6" height="10.8" fill="#0ecb81"/><rect x="1902.1" y="826.1" width="2.4" height="18.5" fill="#0ecb81"/><rect x="1900.04" y="834.1" width="6.6" height="10.5" fill="#0ecb81"/><rect x="1912.2" y="797.2" width="2.4" height="39.3" fill="#0ecb81"/><rect x="1910.08" y="799.6" width="6.6" height="36.9" fill="#0ecb81"/><rect x="1922.2" y="775.5" width="2.4" height="28.1" fill="#0ecb81"/><rect x="1920.13" y="775.5" width="6.6" height="28.1" fill="#0ecb81"/><rect x="1932.3" y="763.4" width="2.4" height="48.2" fill="#f6465d"/><rect x="1930.17" y="775.5" width="6.6" height="32.1" fill="#f6465d"/><rect x="1942.3" y="743.8" width="2.4" height="63.8" fill="#0ecb81"/><rect x="1940.21" y="761.8" width="6.6" height="45.8" fill="#0ecb81"/><rect x="1952.4" y="741.2" width="2.4" height="32.7" fill="#f6465d"/><rect x="1950.26" y="761.8" width="6.6" height="4.0" fill="#f6465d"/><rect x="1962.4" y="752.5" width="2.4" height="18.1" fill="#f6465d"/><rect x="1960.30" y="763.4" width="6.6" height="7.2" fill="#f6465d"/><rect x="1972.4" y="765.3" width="2.4" height="36.7" fill="#f6465d"/><rect x="1970.35" y="767.4" width="6.6" height="34.6" fill="#f6465d"/><rect x="1982.5" y="769.8" width="2.4" height="33.0" fill="#0ecb81"/><rect x="1980.39" y="777.9" width="6.6" height="24.9" fill="#0ecb81"/><rect x="1992.5" y="768.2" width="2.4" height="18.5" fill="#0ecb81"/><rect x="1990.43" y="777.9" width="6.6" height="1.6" fill="#0ecb81"/><rect x="2002.6" y="750.9" width="2.4" height="29.4" fill="#0ecb81"/><rect x="2000.48" y="763.4" width="6.6" height="16.9" fill="#0ecb81"/><rect x="2012.6" y="751.4" width="2.4" height="21.7" fill="#0ecb81"/><rect x="2010.52" y="751.4" width="6.6" height="15.2" fill="#0ecb81"/><rect x="2022.7" y="741.2" width="2.4" height="35.1" fill="#f6465d"/><rect x="2020.57" y="751.4" width="6.6" height="15.2" fill="#f6465d"/><rect x="2032.7" y="763.4" width="2.4" height="19.0" fill="#f6465d"/><rect x="2030.61" y="763.4" width="6.6" height="15.3" fill="#f6465d"/><rect x="2042.8" y="776.3" width="2.4" height="45.8" fill="#f6465d"/><rect x="2040.65" y="776.3" width="6.6" height="36.1" fill="#f6465d"/><rect x="2052.8" y="802.3" width="2.4" height="45.5" fill="#f6465d"/><rect x="2050.70" y="809.2" width="6.6" height="38.6" fill="#f6465d"/><rect x="2062.8" y="814.8" width="2.4" height="44.2" fill="#0ecb81"/><rect x="2060.74" y="814.8" width="6.6" height="33.0" fill="#0ecb81"/><rect x="2072.9" y="753.5" width="2.4" height="63.7" fill="#0ecb81"/><rect x="2070.79" y="767.4" width="6.6" height="49.8" fill="#0ecb81"/><rect x="2082.9" y="765.0" width="2.4" height="41.0" fill="#f6465d"/><rect x="2080.83" y="765.8" width="6.6" height="40.2" fill="#f6465d"/><rect x="2093.0" y="785.9" width="2.4" height="26.5" fill="#0ecb81"/><rect x="2090.87" y="792.0" width="6.6" height="14.0" fill="#0ecb81"/><rect x="2103.0" y="772.3" width="2.4" height="23.2" fill="#0ecb81"/><rect x="2100.92" y="775.9" width="6.6" height="19.6" fill="#0ecb81"/><rect x="2113.1" y="774.6" width="2.4" height="24.2" fill="#f6465d"/><rect x="2110.96" y="775.9" width="6.6" height="22.9" fill="#f6465d"/><rect x="2123.1" y="786.2" width="2.4" height="28.6" fill="#f6465d"/><rect x="2121.01" y="790.7" width="6.6" height="24.1" fill="#f6465d"/><rect x="2133.2" y="803.6" width="2.4" height="20.1" fill="#f6465d"/><rect x="2131.05" y="807.6" width="6.6" height="15.3" fill="#f6465d"/><rect x="2143.2" y="818.4" width="2.4" height="15.4" fill="#f6465d"/><rect x="2141.09" y="818.8" width="6.6" height="14.5" fill="#f6465d"/><rect x="2153.2" y="804.9" width="2.4" height="36.4" fill="#f6465d"/><rect x="2151.14" y="830.1" width="6.6" height="11.2" fill="#f6465d"/><rect x="2163.3" y="838.4" width="2.4" height="12.0" fill="#f6465d"/><rect x="2161.18" y="838.4" width="6.6" height="12.0" fill="#f6465d"/><rect x="2173.3" y="815.9" width="2.4" height="35.3" fill="#0ecb81"/><rect x="2171.23" y="832.7" width="6.6" height="18.5" fill="#0ecb81"/><rect x="2183.4" y="827.1" width="2.4" height="28.9" fill="#f6465d"/><rect x="2181.27" y="832.7" width="6.6" height="8.9" fill="#f6465d"/><rect x="2193.4" y="807.8" width="2.4" height="34.6" fill="#0ecb81"/><rect x="2191.31" y="812.7" width="6.6" height="29.7" fill="#0ecb81"/><rect x="2203.5" y="801.7" width="2.4" height="28.6" fill="#f6465d"/><rect x="2201.36" y="812.7" width="6.6" height="8.0" fill="#f6465d"/><rect x="2213.5" y="811.1" width="2.4" height="21.6" fill="#f6465d"/><rect x="2211.40" y="818.3" width="6.6" height="14.4" fill="#f6465d"/><rect x="2223.5" y="812.3" width="2.4" height="22.1" fill="#0ecb81"/><rect x="2221.45" y="816.7" width="6.6" height="16.9" fill="#0ecb81"/><rect x="2233.6" y="799.0" width="2.4" height="20.1" fill="#0ecb81"/><rect x="2231.49" y="803.0" width="6.6" height="16.1" fill="#0ecb81"/><rect x="2243.6" y="793.1" width="2.4" height="23.6" fill="#f6465d"/><rect x="2241.53" y="803.0" width="6.6" height="12.9" fill="#f6465d"/><rect x="2253.7" y="798.5" width="2.4" height="24.1" fill="#f6465d"/><rect x="2251.58" y="811.9" width="6.6" height="10.4" fill="#f6465d"/><rect x="2263.7" y="799.0" width="2.4" height="20.1" fill="#0ecb81"/><rect x="2261.62" y="803.8" width="6.6" height="15.3" fill="#0ecb81"/><rect x="2273.8" y="798.2" width="2.4" height="24.9" fill="#f6465d"/><rect x="2271.67" y="803.8" width="6.6" height="19.3" fill="#f6465d"/><rect x="2283.8" y="815.9" width="2.4" height="42.6" fill="#f6465d"/><rect x="2281.71" y="820.7" width="6.6" height="27.3" fill="#f6465d"/><rect x="2293.9" y="812.7" width="2.4" height="45.8" fill="#0ecb81"/><rect x="2291.75" y="812.7" width="6.6" height="35.3" fill="#0ecb81"/><rect x="2303.9" y="812.7" width="2.4" height="33.7" fill="#f6465d"/><rect x="2301.80" y="812.7" width="6.6" height="25.7" fill="#f6465d"/><rect x="2313.9" y="823.1" width="2.4" height="20.9" fill="#0ecb81"/><rect x="2311.84" y="827.9" width="6.6" height="10.5" fill="#0ecb81"/><rect x="2324.0" y="825.5" width="2.4" height="31.4" fill="#f6465d"/><rect x="2321.89" y="827.9" width="6.6" height="20.1" fill="#f6465d"/><rect x="2334.0" y="843.5" width="2.4" height="9.3" fill="#f6465d"/><rect x="2331.93" y="845.6" width="6.6" height="4.0" fill="#f6465d"/><rect x="2344.1" y="844.8" width="2.4" height="9.6" fill="#f6465d"/><rect x="2341.97" y="845.6" width="6.6" height="6.4" fill="#f6465d"/><rect x="2354.1" y="835.2" width="2.4" height="16.8" fill="#0ecb81"/><rect x="2352.02" y="839.2" width="6.6" height="12.8" fill="#0ecb81"/><rect x="2364.2" y="794.2" width="2.4" height="47.4" fill="#0ecb81"/><rect x="2362.06" y="802.2" width="6.6" height="39.4" fill="#0ecb81"/><rect x="2374.2" y="782.1" width="2.4" height="24.9" fill="#0ecb81"/><rect x="2372.11" y="791.8" width="6.6" height="14.4" fill="#0ecb81"/><rect x="2384.3" y="781.3" width="2.4" height="23.3" fill="#f6465d"/><rect x="2382.15" y="791.0" width="6.6" height="13.6" fill="#f6465d"/><rect x="2394.3" y="758.8" width="2.4" height="45.0" fill="#0ecb81"/><rect x="2392.19" y="766.1" width="6.6" height="37.7" fill="#0ecb81"/><rect x="2404.3" y="766.1" width="2.4" height="27.3" fill="#f6465d"/><rect x="2402.24" y="766.1" width="6.6" height="20.9" fill="#f6465d"/><rect x="2414.4" y="758.0" width="2.4" height="28.2" fill="#0ecb81"/><rect x="2412.28" y="759.6" width="6.6" height="26.6" fill="#0ecb81"/><rect x="2424.4" y="728.3" width="2.4" height="33.7" fill="#0ecb81"/><rect x="2422.33" y="738.8" width="6.6" height="23.2" fill="#0ecb81"/><rect x="2434.5" y="738.8" width="2.4" height="27.3" fill="#f6465d"/><rect x="2432.37" y="738.8" width="6.6" height="27.3" fill="#f6465d"/><rect x="2444.5" y="755.6" width="2.4" height="20.1" fill="#0ecb81"/><rect x="2442.41" y="756.4" width="6.6" height="8.9" fill="#0ecb81"/><rect x="2454.6" y="721.9" width="2.4" height="36.1" fill="#0ecb81"/><rect x="2452.46" y="721.9" width="6.6" height="36.1" fill="#0ecb81"/><rect x="2464.6" y="701.0" width="2.4" height="23.3" fill="#0ecb81"/><rect x="2462.50" y="713.1" width="6.6" height="11.2" fill="#0ecb81"/><rect x="2474.6" y="693.0" width="2.4" height="22.5" fill="#0ecb81"/><rect x="2472.55" y="694.1" width="6.6" height="21.4" fill="#0ecb81"/><rect x="2484.7" y="690.2" width="2.4" height="32.5" fill="#f6465d"/><rect x="2482.59" y="694.1" width="6.6" height="20.6" fill="#f6465d"/><rect x="2494.7" y="712.3" width="2.4" height="21.6" fill="#f6465d"/><rect x="2492.63" y="712.3" width="6.6" height="21.6" fill="#f6465d"/><rect x="2504.8" y="713.9" width="2.4" height="20.8" fill="#0ecb81"/><rect x="2502.68" y="713.9" width="6.6" height="20.0" fill="#0ecb81"/><rect x="2514.8" y="709.8" width="2.4" height="14.5" fill="#f6465d"/><rect x="2512.72" y="713.9" width="6.6" height="10.4" fill="#f6465d"/><rect x="2524.9" y="714.1" width="2.4" height="15.2" fill="#f6465d"/><rect x="2522.77" y="721.9" width="6.6" height="7.4" fill="#f6465d"/><rect x="2534.9" y="696.3" width="2.4" height="33.0" fill="#0ecb81"/><rect x="2532.81" y="702.9" width="6.6" height="26.4" fill="#0ecb81"/><rect x="2545.0" y="670.0" width="2.4" height="35.4" fill="#0ecb81"/><rect x="2542.85" y="672.5" width="6.6" height="32.9" fill="#0ecb81"/><rect x="2555.0" y="665.9" width="2.4" height="37.0" fill="#f6465d"/><rect x="2552.90" y="672.5" width="6.6" height="24.7" fill="#f6465d"/><rect x="2565.0" y="684.0" width="2.4" height="33.7" fill="#f6465d"/><rect x="2562.94" y="694.4" width="6.6" height="15.1" fill="#f6465d"/><rect x="2575.1" y="706.5" width="2.4" height="20.8" fill="#f6465d"/><rect x="2572.99" y="706.5" width="6.6" height="6.3" fill="#f6465d"/><rect x="2585.1" y="710.3" width="2.4" height="25.6" fill="#f6465d"/><rect x="2583.03" y="710.3" width="6.6" height="25.6" fill="#f6465d"/><rect x="2595.2" y="723.0" width="2.4" height="28.5" fill="#f6465d"/><rect x="2593.07" y="733.4" width="6.6" height="7.4" fill="#f6465d"/><rect x="2605.2" y="731.2" width="2.4" height="12.6" fill="#f6465d"/><rect x="2603.12" y="737.5" width="6.6" height="6.3" fill="#f6465d"/><rect x="2615.3" y="731.2" width="2.4" height="15.4" fill="#0ecb81"/><rect x="2613.16" y="733.4" width="6.6" height="12.3" fill="#0ecb81"/><rect x="2625.3" y="724.0" width="2.4" height="56.3" fill="#f6465d"/><rect x="2623.21" y="732.9" width="6.6" height="39.2" fill="#f6465d"/><rect x="2635.4" y="768.0" width="2.4" height="18.9" fill="#f6465d"/><rect x="2633.25" y="768.8" width="6.6" height="6.6" fill="#f6465d"/><rect x="2645.4" y="743.3" width="2.4" height="32.1" fill="#0ecb81"/><rect x="2643.29" y="749.9" width="6.6" height="25.5" fill="#0ecb81"/><rect x="2655.4" y="699.3" width="2.4" height="52.2" fill="#0ecb81"/><rect x="2653.34" y="708.7" width="6.6" height="42.8" fill="#0ecb81"/><rect x="2665.5" y="696.0" width="2.4" height="20.9" fill="#0ecb81"/><rect x="2663.38" y="703.7" width="6.6" height="12.7" fill="#0ecb81"/><rect x="2675.5" y="700.0" width="2.4" height="17.7" fill="#f6465d"/><rect x="2673.43" y="702.9" width="6.6" height="14.5" fill="#f6465d"/><rect x="2685.6" y="689.4" width="2.4" height="30.8" fill="#0ecb81"/><rect x="2683.47" y="703.7" width="6.6" height="12.4" fill="#0ecb81"/><rect x="2695.6" y="702.6" width="2.4" height="42.3" fill="#f6465d"/><rect x="2693.51" y="702.9" width="6.6" height="37.9" fill="#f6465d"/><rect x="2705.7" y="711.5" width="2.4" height="29.3" fill="#0ecb81"/><rect x="2703.56" y="711.5" width="6.6" height="29.3" fill="#0ecb81"/><rect x="2715.7" y="710.5" width="2.4" height="18.5" fill="#f6465d"/><rect x="2713.60" y="711.2" width="6.6" height="17.2" fill="#f6465d"/><rect x="2725.7" y="719.1" width="2.4" height="17.6" fill="#f6465d"/><rect x="2723.65" y="724.3" width="6.6" height="10.7" fill="#f6465d"/><rect x="2735.8" y="717.4" width="2.4" height="17.1" fill="#0ecb81"/><rect x="2733.69" y="727.6" width="6.6" height="6.9" fill="#0ecb81"/><rect x="2745.8" y="721.0" width="2.4" height="14.9" fill="#f6465d"/><rect x="2743.73" y="727.6" width="6.6" height="5.8" fill="#f6465d"/><rect x="2755.9" y="713.1" width="2.4" height="23.6" fill="#0ecb81"/><rect x="2753.78" y="721.9" width="6.6" height="11.5" fill="#0ecb81"/><rect x="2765.9" y="698.3" width="2.4" height="26.4" fill="#0ecb81"/><rect x="2763.82" y="698.3" width="6.6" height="26.4" fill="#0ecb81"/><rect x="2776.0" y="698.3" width="2.4" height="20.3" fill="#f6465d"/><rect x="2773.87" y="698.3" width="6.6" height="20.3" fill="#f6465d"/><rect x="2786.0" y="716.1" width="2.4" height="21.1" fill="#f6465d"/><rect x="2783.91" y="716.1" width="6.6" height="3.3" fill="#f6465d"/><rect x="2796.1" y="700.0" width="2.4" height="36.7" fill="#f6465d"/><rect x="2793.95" y="716.9" width="6.6" height="17.3" fill="#f6465d"/><rect x="2806.1" y="716.4" width="2.4" height="31.0" fill="#0ecb81"/><rect x="2804.00" y="716.4" width="6.6" height="17.8" fill="#0ecb81"/><rect x="2816.1" y="688.9" width="2.4" height="30.2" fill="#0ecb81"/><rect x="2814.04" y="710.8" width="6.6" height="8.3" fill="#0ecb81"/><rect x="2826.2" y="709.5" width="2.4" height="18.1" fill="#f6465d"/><rect x="2824.09" y="709.5" width="6.6" height="5.0" fill="#f6465d"/><rect x="2836.2" y="699.3" width="2.4" height="16.0" fill="#0ecb81"/><rect x="2834.13" y="707.0" width="6.6" height="7.5" fill="#0ecb81"/><rect x="2846.3" y="705.5" width="2.4" height="21.3" fill="#f6465d"/><rect x="2844.17" y="706.2" width="6.6" height="20.6" fill="#f6465d"/><rect x="2856.3" y="721.0" width="2.4" height="13.5" fill="#f6465d"/><rect x="2854.22" y="721.4" width="6.6" height="7.9" fill="#f6465d"/><rect x="2866.4" y="724.3" width="2.4" height="20.6" fill="#f6465d"/><rect x="2864.26" y="724.3" width="6.6" height="14.0" fill="#f6465d"/><rect x="2876.4" y="711.2" width="2.4" height="35.4" fill="#0ecb81"/><rect x="2874.31" y="711.2" width="6.6" height="27.1" fill="#0ecb81"/><rect x="2886.5" y="705.4" width="2.4" height="12.0" fill="#f6465d"/><rect x="2884.35" y="705.4" width="6.6" height="11.5" fill="#f6465d"/>
<text class="wm" x="382.0" y="796.3" font-size="241" fill="rgba(0,0,0,0.3)" shape-rendering="auto">www.coinglass.com</text>
</svg></div>
<svg style="position:absolute;left:0;top:2290px;" width="3285" height="119" viewBox="0 2290 3285 119"><g opacity="0.115"><text x="48" y="2373.3" font-family="Liberation Sans, Arial, sans-serif" font-size="73.5" letter-spacing="-0.52" fill="#000" stroke="#000" stroke-width="0.9">© 2025 CoinGlass, all rights reserved</text><text x="2568" y="2373.3" font-family="Liberation Sans, Arial, sans-serif" font-size="73.5" letter-spacing="-0.4" fill="#000" stroke="#000" stroke-width="0.9">2025-11-17 14:13:17</text></g></svg>
<div class="handle" style="left:198px;top:2277px;"><div class="grip" style="left:15px;"></div><div class="grip" style="left:24.7px;"></div></div>
<div class="handle" style="left:3083px;top:2277px;"><div class="grip" style="left:15px;"></div><div class="grip" style="left:24.7px;"></div></div>
</body></html>
